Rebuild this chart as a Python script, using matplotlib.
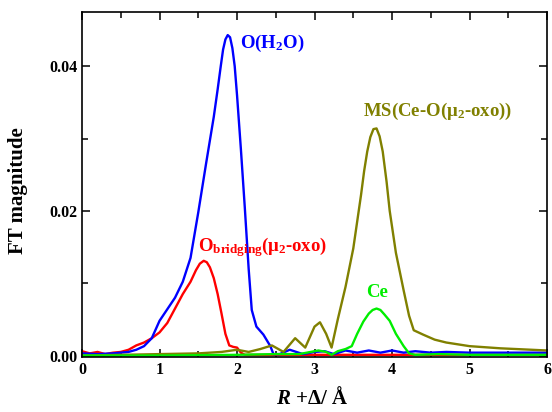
import matplotlib
matplotlib.use("Agg")
import matplotlib.pyplot as plt
from matplotlib.ticker import MultipleLocator, FormatStrFormatter

plt.rcParams['font.family'] = ['Liberation Serif', 'DejaVu Serif']
plt.rcParams['font.weight'] = 'bold'
plt.rcParams['mathtext.fontset'] = 'custom'
plt.rcParams['mathtext.rm'] = 'Liberation Serif:bold'
plt.rcParams['mathtext.bf'] = 'Liberation Serif:bold'
plt.rcParams['mathtext.it'] = 'Liberation Serif:italic:bold'

# O(H2O) path
blue_x = [0, 0.2, 0.4, 0.6, 0.7, 0.8, 0.9, 0.95, 1.0, 1.1, 1.2, 1.3, 1.4, 1.5, 1.6, 1.7,
          1.75, 1.79, 1.82, 1.85, 1.88, 1.91, 1.94, 1.97, 2.0, 2.05, 2.1, 2.15, 2.19, 2.25,
          2.34, 2.43, 2.47, 2.55, 2.68, 2.85, 3.0, 3.13, 3.25, 3.4, 3.55, 3.7, 3.85, 4.0,
          4.15, 4.3, 4.5, 4.7, 5.0, 5.3, 5.6, 6.0]
blue_y = [0.0003, 0.0002, 0.0003, 0.0005, 0.0008, 0.0013, 0.0024, 0.0036, 0.0048, 0.0064,
          0.0080, 0.0102, 0.0135, 0.0198, 0.0265, 0.0330, 0.0368, 0.0400, 0.0423, 0.0437,
          0.0443, 0.0440, 0.0425, 0.0400, 0.0360, 0.0285, 0.0205, 0.0120, 0.0063, 0.0040,
          0.0029, 0.0013, 0.0002, 0.0002, 0.0008, 0.0002, 0.0005, 0.0006, 0.0002, 0.0007,
          0.0004, 0.0007, 0.0004, 0.0007, 0.0004, 0.0006, 0.0004, 0.0005, 0.0004, 0.0004,
          0.0004, 0.0004]

# O bridging (mu2-oxo) path
red_x = [0, 0.1, 0.2, 0.3, 0.4, 0.5, 0.6, 0.7, 0.8, 0.9, 1.0, 1.1, 1.2, 1.3, 1.4, 1.47,
         1.52, 1.57, 1.61, 1.65, 1.7, 1.75, 1.8, 1.85, 1.9, 1.95, 2.0, 2.05, 2.1, 2.2, 2.6,
         3.0, 3.5, 4.0, 4.5, 5.0, 5.5, 6.0]
red_y = [0.0006, 0.0003, 0.0005, 0.0002, 0.0004, 0.0005, 0.0008, 0.0014, 0.0018, 0.0024,
         0.0032, 0.0045, 0.0065, 0.0085, 0.0102, 0.0118, 0.0127, 0.0131, 0.0129, 0.0122,
         0.0107, 0.0085, 0.0058, 0.0030, 0.0014, 0.0012, 0.0011, 0.0004, 0.0001, 0.0001,
         0.0001, 0.0001, 0.0001, 0.0001, 0.0001, 0.0001, 0.0001, 0.0001]

# MS(Ce-O(mu2-oxo)) path
olive_x = [0, 0.5, 1.0, 1.5, 1.8, 2.0, 2.15, 2.3, 2.45, 2.6, 2.75, 2.88, 3.0, 3.07, 3.15,
           3.22, 3.3, 3.4, 3.5, 3.6, 3.64, 3.68, 3.72, 3.76, 3.8, 3.84, 3.88, 3.93, 3.97,
           4.05, 4.15, 4.22, 4.28, 4.4, 4.55, 4.7, 5.0, 5.4, 6.0]
olive_y = [0.0000, 0.0001, 0.0002, 0.0003, 0.0005, 0.0008, 0.0005, 0.0009, 0.0014, 0.0005,
           0.0024, 0.0011, 0.0040, 0.0046, 0.0030, 0.0011, 0.0050, 0.0095, 0.0148, 0.0222,
           0.0255, 0.0282, 0.0302, 0.0313, 0.0314, 0.0303, 0.0282, 0.0240, 0.0200, 0.0142,
           0.0090, 0.0055, 0.0035, 0.0029, 0.0022, 0.0018, 0.0013, 0.0010, 0.0007]

# Ce path
green_x = [0, 1, 2, 2.5, 2.8, 2.95, 3.05, 3.15, 3.22, 3.3, 3.4, 3.48, 3.55, 3.63, 3.7,
           3.75, 3.8, 3.85, 3.9, 3.97, 4.05, 4.15, 4.22, 4.3, 4.6, 5.0, 5.5, 6.0]
green_y = [0.0000, 0.0000, 0.0001, 0.0002, 0.0002, 0.0005, 0.0007, 0.0005, 0.0001, 0.0006,
           0.0009, 0.0013, 0.0030, 0.0047, 0.0058, 0.0063, 0.0065, 0.0063, 0.0057, 0.0048,
           0.0030, 0.0013, 0.0003, 0.0001, 0.0002, 0.0001, 0.0001, 0.0001]

fig = plt.figure(figsize=(5.52, 4.12), dpi=100)
ax = fig.add_axes([0.1486, 0.1335, 0.8424, 0.8375])

lw = 1.7
ax.plot(red_x, red_y, color='#ff0000', lw=lw)
ax.plot(blue_x, blue_y, color='#0000ff', lw=lw)
ax.plot(olive_x, olive_y, color='#808000', lw=lw)
ax.plot(green_x, green_y, color='#00ee00', lw=lw)

fs = 13.5
ax.text(2.04, 0.0432, r'O(H$_2$O)', color='#0000ff', fontsize=fs, va='center')
ax.text(3.63, 0.0337, r'MS(Ce-O(μ$_2$-oxo))', color='#808000', fontsize=fs, va='center')
ax.text(1.5, 0.0150, r'O$_{\mathrm{bridging}}$(μ$_2$-oxo)', color='#ff0000', fontsize=fs, va='center')
ax.text(3.66, 0.0087, 'Ce', color='#00ee00', fontsize=fs, va='center')

ax.set_xlim(0, 6)
ax.set_ylim(-0.0002, 0.0475)
ax.xaxis.set_major_locator(MultipleLocator(1))
ax.xaxis.set_minor_locator(MultipleLocator(0.5))
ax.yaxis.set_major_locator(MultipleLocator(0.02))
ax.yaxis.set_minor_locator(MultipleLocator(0.01))
ax.yaxis.set_major_formatter(FormatStrFormatter('%.2f'))
ax.tick_params(which='both', direction='in', top=True, right=True, width=1.1, labelsize=11.5)
ax.tick_params(which='major', length=5.5)
ax.tick_params(which='minor', length=4.5)
for s in ax.spines.values():
    s.set_linewidth(1.2)

xl = ax.set_xlabel(r'$R$ +Δ/ Å', fontsize=15, fontweight='bold')
xl.set_va('center')
ax.xaxis.set_label_coords(0.495, -0.119)
yl = ax.set_ylabel('FT magnitude', fontsize=15, fontweight='bold')
yl.set_va('center')
ax.yaxis.set_label_coords(-0.137, 0.481)

fig.savefig('out.png', dpi=100)
